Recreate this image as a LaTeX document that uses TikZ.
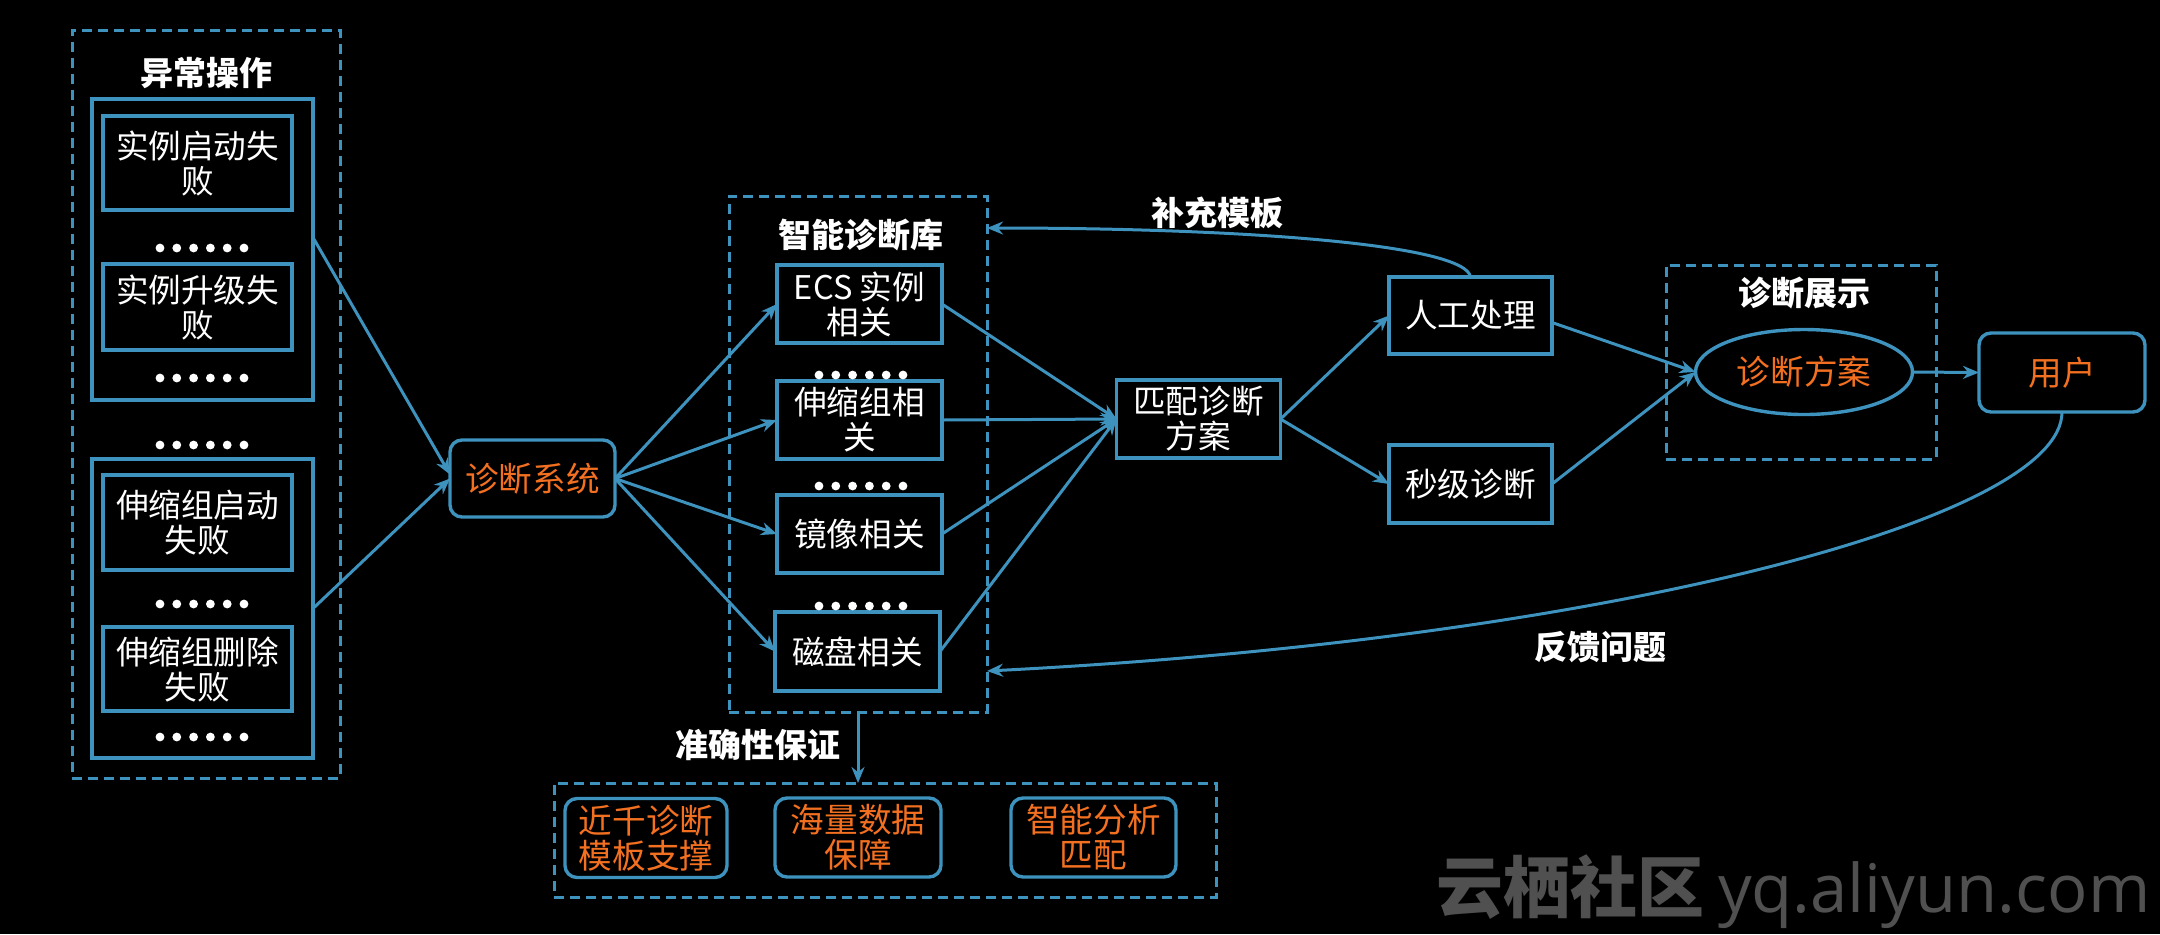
\documentclass[tikz,border=0pt]{standalone}
\usepackage{fontspec}
\setmainfont{Noto Sans CJK SC}
\newfontfamily\wmlatin{Open Sans}
\usetikzlibrary{arrows.meta,shapes.geometric}
\definecolor{lineblue}{RGB}{62,146,190}
\definecolor{orangetxt}{RGB}{243,112,33}
\definecolor{wmgray}{RGB}{80,80,80}
\newcommand\sixdots[2]{\foreach \i in {0,...,5}{\fill[white] (#1-42+\i*16.8,#2) circle (2.2pt);}}
\tikzset{
 sz/.style 2 args={minimum width=#1*0.5pt, minimum height=#2*0.5pt},
 sbox/.style={draw=lineblue, line width=1.7pt},
 rbox/.style={draw=lineblue, line width=1.7pt, rounded corners=6pt},
 dbox/.style={draw=lineblue, line width=1.5pt, dash pattern=on 5pt off 3pt},
 wt/.style={text=white, font=\fontsize{16.3}{17.5}\selectfont, align=center},
 ot/.style={text=orangetxt, font=\fontsize{16.8}{17.5}\selectfont, align=center},
 ttl/.style={text=white, font=\bfseries\fontsize{16.5}{18}\selectfont},
 arr/.style={draw=lineblue, line width=1.5pt, -{Stealth[length=8pt,width=6.5pt]}},
}
\begin{document}
\begin{tikzpicture}[x=0.5pt,y=-0.5pt, every node/.style={inner sep=0pt, outer sep=0pt}]
\fill[black] (0,0) rectangle (2160,934);
\useasboundingbox (0,0) rectangle (2160,934);

% left group
\node[dbox, sz={268}{748}] (op) at (206,404) {};
\node[ttl] (optitle) at (206,73) {异常操作};
\node[sbox, sz={221}{301}] (g1) at (202.5,249.5) {};
\node[sbox, sz={189}{94}, wt] (b1) at (197.5,163) {实例启动失\\败};
\node[sbox, sz={189}{86}, wt] (b2) at (197.5,307) {实例升级失\\败};
\node[sbox, sz={221}{299}] (g2) at (202.5,608.5) {};
\node[sbox, sz={189}{95}, wt] (b3) at (197.5,522.5) {伸缩组启动\\失败};
\node[sbox, sz={189}{84}, wt] (b4) at (197.5,669) {伸缩组删除\\失败};
\sixdots{202}{248}
\sixdots{202}{378}
\sixdots{202}{445}
\sixdots{202}{604}
\sixdots{202}{737}

% diagnosis system
\node[rbox, sz={165}{77}, ot] (diag) at (532.5,478.5) {诊断系统};

% library
\node[dbox, sz={258}{516}] (lib) at (858,454) {};
\node[ttl] (libtitle) at (861,235) {智能诊断库};
\node[sbox, sz={165}{78}, wt] (ecs) at (859.5,304) {ECS 实例\\相关};
\node[sbox, sz={165}{78}, wt] (asg) at (859.5,420) {伸缩组相\\关};
\node[sbox, sz={165}{78}, wt] (img) at (859.5,534) {镜像相关};
\node[sbox, sz={165}{79}, wt] (disk) at (857.5,651.5) {磁盘相关};
\sixdots{861}{375}
\sixdots{861}{486}
\sixdots{861}{606}

% match
\node[sbox, sz={164}{78}, wt] (match) at (1198.5,419) {匹配诊断\\方案};
\node[sbox, sz={163}{77}, wt] (human) at (1470.5,315.5) {人工处理};
\node[sbox, sz={163}{78}, wt] (sec) at (1470.5,484) {秒级诊断};

% display
\node[dbox, sz={270}{194}] (show) at (1801,362) {};
\node[ttl] (showtitle) at (1804,293) {诊断展示};
\node[ellipse, draw=lineblue, line width=1.7pt, sz={217}{85}, ot] (plan) at (1804,372) {诊断方案};
\node[rbox, sz={166}{79}, ot] (user) at (2062,372.5) {用户};

% accuracy
\node[ttl] (acclabel) at (758,745) {准确性保证};
\node[dbox, sz={662}{114}] (acc) at (885,840) {};
\node[rbox, sz={162}{79}, ot] (a1) at (646,838) {近千诊断\\模板支撑};
\node[rbox, sz={166}{79}, ot] (a2) at (858,837.5) {海量数据\\保障};
\node[rbox, sz={165}{79}, ot] (a3) at (1093.5,837.5) {智能分析\\匹配};

% labels
\node[ttl] (suppl) at (1217,213) {补充模板};
\node[ttl] (feedback) at (1600,647) {反馈问题};

\coordinate (fb1) at (987,228);
\coordinate (fb2) at (987,671);

% connectors
\draw[arr] ([yshift=6pt]g1.east) -- ([yshift=2pt]diag.west);
\draw[arr] (g2.east) -- (diag.west);
\draw[arr] (diag.east) -- (ecs.west);
\draw[arr] (diag.east) -- (asg.west);
\draw[arr] (diag.east) -- (img.west);
\draw[arr] (diag.east) -- (disk.west);
\draw[arr] (ecs.east) -- (match.west);
\draw[arr] (asg.east) -- (match.west);
\draw[arr] (img.east) -- (match.west);
\draw[arr] (disk.east) -- (match.west);
\draw[arr] (match.east) -- (human.west);
\draw[arr] (match.east) -- (sec.west);
\draw[arr] ([yshift=-3.5pt]human.east) -- (plan.west);
\draw[arr] (sec.east) -- (plan.west);
\draw[arr] (plan.east) -- (user.west);
\draw[arr] (lib.south) -- (lib.south |- acc.north);
\draw[arr] (human.north) .. controls (1466,245) and (1250,228) .. (fb1);
\draw[arr] (user.south) .. controls (2062,520) and (1600,640) .. (fb2);

% watermark
\node[anchor=base west, text=wmgray] (wm) at (1436,912) {{\fontsize{33.5}{36}\selectfont\bfseries 云栖社区}\hspace{7pt}{\wmlatin\mdseries\fontsize{33.5}{36}\selectfont yq.aliyun.com}};
\end{tikzpicture}
\end{document}
